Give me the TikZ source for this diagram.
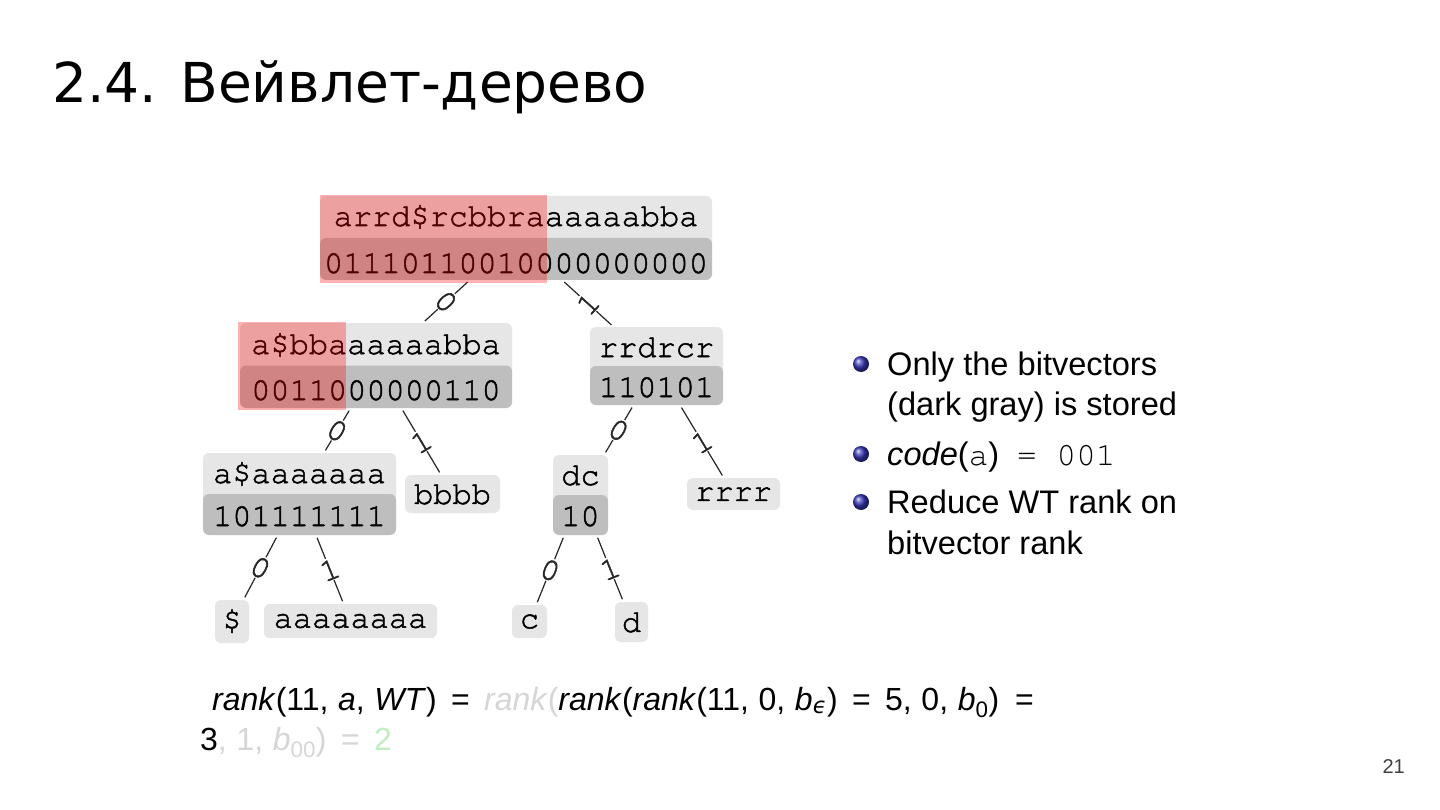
\documentclass[tikz,border=0pt]{standalone}
\usepackage[T1]{fontenc}
\usepackage{fontspec}
\setmainfont{Liberation Sans}
\newfontfamily\titlef{DejaVu Sans}
\newfontfamily\djv{DejaVu Sans}
\newcommand\cour{\fontencoding{T1}\fontfamily{pcr}\selectfont}
\newcommand\heavyon{\special{pdf:literal direct 2 Tr 0.5 w}}
\newcommand\heavyoff{\special{pdf:literal direct 0 Tr}}
\usetikzlibrary{backgrounds,calc}
\definecolor{lightrow}{HTML}{E6E6E6}
\definecolor{darkrow}{HTML}{BEBEBE}
\definecolor{fadetext}{HTML}{D6D6D6}
\definecolor{fadegreen}{HTML}{C2EDC2}
\definecolor{ballblue}{HTML}{3838B8}
\definecolor{pagegray}{HTML}{404040}
\begin{document}
\begin{tikzpicture}[x=1pt,y=-1pt,
  tbox/.style={rectangle, inner sep=0pt, outer sep=0pt},
  heavy/.style={execute at begin node=\heavyon, execute at end node=\heavyoff},
  leaf/.style={rectangle, inner sep=0pt, outer sep=0pt, fill=lightrow, rounded corners=6pt,
    font=\fontsize{32}{38}\cour, heavy},
  ttext/.style={inner sep=0pt, anchor=base, font=\fontsize{32}{38}\cour, heavy},
  edge/.style={line width=1.2pt, black!85, shorten <=3pt, shorten >=3pt},
  lbl/.style={midway, fill=white, inner xsep=2pt, inner ysep=1pt, font=\fontsize{32}{32}\cour, heavy},
  hilite/.style={fill=red, fill opacity=0.3},
  bul/.style={anchor=base west, inner sep=0pt, font=\fontsize{32.6}{40}\selectfont},
  frm/.style={anchor=base west, inner sep=0pt, font=\fontsize{32}{38}\selectfont},
  ball/.style={ball color=ballblue}
]
\begin{scope}[on background layer]
  \fill[white] (0,0) rectangle (1440,810);
\end{scope}
\useasboundingbox (0,0) rectangle (1440,810);

% title
\node[anchor=base west, inner sep=0pt, font=\fontsize{55}{60}\selectfont\titlef] (title) at (52,103) {2.4. Вейвлет-дерево};

% two-row tree nodes
\node[tbox, minimum width=392, minimum height=84] (root) at (516,238) {};
\node[tbox, minimum width=272, minimum height=85] (ml) at (376,365.5) {};
\node[tbox, minimum width=133, minimum height=78] (rr) at (656.5,366) {};
\node[tbox, minimum width=193, minimum height=82] (aa) at (299.5,494) {};
\node[tbox, minimum width=55, minimum height=80] (dc) at (580.5,495) {};

\begin{scope}[on background layer]
  \foreach \n in {root,ml,rr,aa,dc}{
    \fill[lightrow, rounded corners=6pt] (\n.north west) rectangle ($(\n.east)+(0,10)$);
    \fill[darkrow, rounded corners=6pt] (\n.west) rectangle (\n.south east);
  }
\end{scope}

% texts in two-row nodes
\node[ttext] (root-s) at (516,226) {arrd\$rcbbraaaaaabba};
\node[ttext] (root-b) at (516,273) {01110110010000000000};
\node[ttext] (ml-s) at (376,354) {a\$bbaaaaaabba};
\node[ttext] (ml-b) at (376,400) {0011000000110};
\node[ttext] (rr-s) at (656.5,357) {rrdrcr};
\node[ttext] (rr-b) at (656.5,397) {110101};
\node[ttext] (aa-s) at (299.5,483) {a\$aaaaaaa};
\node[ttext] (aa-b) at (299.5,526) {101111111};
\node[ttext] (dc-s) at (580.5,485) {dc};
\node[ttext] (dc-b) at (580.5,526) {10};

% leaves
\node[leaf, minimum width=95, minimum height=38] (bb) at (452.5,494) {bbbb};
\node[leaf, minimum width=93, minimum height=32] (r4) at (733.5,494) {rrrr};
\node[leaf, minimum width=34, minimum height=43] (dl) at (232,621.5) {\$};
\node[leaf, minimum width=173, minimum height=34] (a8) at (350.5,621) {aaaaaaaa};
\node[leaf, minimum width=35, minimum height=33] (c) at (529.5,621.5) {c};
\node[leaf, minimum width=33, minimum height=40] (d) at (631.5,622) {d};

% edges
\draw[edge] (root) -- node[lbl, rotate=-47.6]{0} (ml);
\draw[edge] (root) -- node[lbl, rotate=47.7]{1} (rr);
\draw[edge] (ml) -- node[lbl, rotate=-30.8]{0} (aa);
\draw[edge] (ml) -- node[lbl, rotate=30.8]{1} (bb);
\draw[edge] (rr) -- node[lbl, rotate=-30.5]{0} (dc);
\draw[edge] (rr) -- node[lbl, rotate=31]{1} (r4);
\draw[edge] (aa) -- node[lbl, rotate=-27.9]{0} (dl);
\draw[edge] (aa) -- node[lbl, rotate=21.9]{1} (a8);
\draw[edge] (dc) -- node[lbl, rotate=-22]{0} (c);
\draw[edge] (dc) -- node[lbl, rotate=21.9]{1} (d);

% highlights
\fill[hilite] ($(root.north west)+(0,-1)$) rectangle ($(root.south west)+(227,3)$);
\fill[hilite] ($(ml.north west)+(-2,-1)$) rectangle ($(ml.south west)+(106,2)$);

% bullets
\shade[ball] (861,364) circle (8);
\shade[ball] (861,454) circle (8);
\shade[ball] (861,502) circle (8);
\node[bul] (b1a) at (887,375) {Only the bitvectors};
\node[bul] (b1b) at (887,415) {(dark gray) is stored};
\node[bul] (b2) at (887,465) {\textit{code}({\cour a})\hspace{18pt}{\cour =}\hspace{20pt}{\cour 001}};
\node[bul] (b3a) at (887,513) {Reduce WT rank on};
\node[bul] (b3b) at (887,554) {bitvector rank};

% formula
\node[frm] (f1) at (212,710) {\textit{rank}(11,\hspace{0.3em}\textit{a},\hspace{0.3em}\textit{WT})\hspace{0.45em}=\hspace{0.45em}\textcolor{fadetext}{\textit{rank}(}\textit{rank}(\textit{rank}(11,\hspace{0.3em}0,\hspace{0.3em}\textit{b}\textsubscript{\djv\itshape ϵ})\hspace{0.45em}=\hspace{0.45em}5,\hspace{0.3em}0,\hspace{0.3em}\textit{b}\textsubscript{0})\hspace{0.5em}=};
\node[frm] (f2) at (200,750) {3\textcolor{fadetext}{,\hspace{0.3em}1,\hspace{0.3em}\textit{b}\textsubscript{00})\hspace{0.45em}=\hspace{0.45em}}\textcolor{fadegreen}{2}};

% page number
\node[anchor=base east, inner sep=0pt, text=pagegray, font=\fontsize{20}{24}\selectfont] (pg) at (1405,773) {21};
\end{tikzpicture}
\end{document}
